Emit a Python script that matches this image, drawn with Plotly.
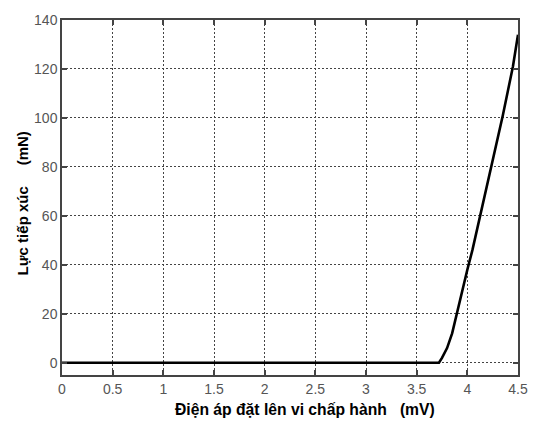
import plotly.graph_objects as go

voltage = [0, 0.5, 1, 1.5, 2, 2.5, 3, 3.5, 3.72, 3.75, 3.8, 3.85, 3.9, 3.95, 4.0, 4.05, 4.1, 4.15, 4.2, 4.25, 4.3, 4.35, 4.4, 4.45, 4.5]
force = [0, 0, 0, 0, 0, 0, 0, 0, 0, 2, 6, 12, 21, 30, 38, 46, 55, 64, 74, 83, 92, 101, 111, 121, 134]

x_ticks = [0, 0.5, 1, 1.5, 2, 2.5, 3, 3.5, 4, 4.5]
x_tick_labels = ["0", "0.5", "1", "1.5", "2", "2.5", "3", "3.5", "4", "4.5"]
y_ticks = [0, 20, 40, 60, 80, 100, 120, 140]

NB = "\u00a0"
x_title = "Điện áp đặt lên vi chấp hành" + NB * 3 + "(mV)"
y_title = "Lực tiếp xúc" + NB * 5 + "(mN)"

fig = go.Figure()
fig.add_trace(go.Scatter(x=voltage, y=force, mode="lines",
                         line=dict(color="black", width=2.6), showlegend=False))

axis_common = dict(
    showline=True, linecolor="#444", linewidth=1.5, mirror="ticks",
    ticks="inside", ticklen=5, tickcolor="#444", tickwidth=1.5,
    showgrid=True, gridcolor="#444", gridwidth=1.2, griddash="1.5px,2.5px",
    zeroline=False,
    tickfont=dict(family="Liberation Sans, Arial", size=14, color="#555"),
)

fig.update_layout(
    width=540, height=421,
    margin=dict(l=62, r=12, t=14, b=46, pad=0),
    paper_bgcolor="white", plot_bgcolor="white",
    xaxis=dict(range=[0, 4.5], tickvals=x_ticks, ticktext=x_tick_labels, **axis_common),
    yaxis=dict(range=[-5, 140], tickvals=y_ticks, **axis_common),
)

fig.add_annotation(text="<b>" + x_title + "</b>",
                   xref="paper", yref="paper", x=0.532, y=-0.0985, yanchor="middle",
                   showarrow=False,
                   font=dict(family="Liberation Sans, Arial", size=15.7, color="black"))
fig.add_annotation(text="<b>" + y_title + "</b>",
                   xref="paper", yref="paper", x=-0.0858, y=0.483, xanchor="center", yanchor="middle",
                   textangle=-90, showarrow=False,
                   font=dict(family="Liberation Sans, Arial", size=15, color="black"))

fig.write_html("out.html", include_plotlyjs=True, full_html=True)
